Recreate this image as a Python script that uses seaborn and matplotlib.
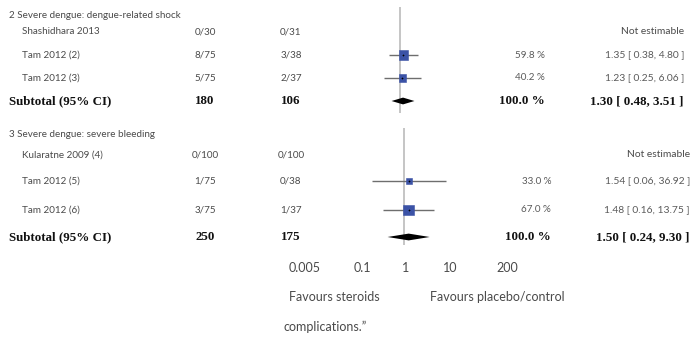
import numpy as np
import pandas as pd
import matplotlib
matplotlib.use("Agg")
import matplotlib.pyplot as plt
import seaborn as sns

# ---------------- data ----------------
group_titles = ["2 Severe dengue: dengue-related shock", "3 Severe dengue: severe bleeding"]
studies = [["Shashidhara 2013", "Tam 2012 (2)", "Tam 2012 (3)"],
           ["Kularatne 2009 (4)", "Tam 2012 (5)", "Tam 2012 (6)"]]
exp_events = [["0/30", "8/75", "5/75"], ["0/100", "1/75", "3/75"]]
ctrl_events = [["0/31", "3/38", "2/37"], ["0/100", "0/38", "1/37"]]
weights = [[np.nan, 59.8, 40.2], [np.nan, 33.0, 67.0]]
rr = [[np.nan, 1.35, 1.23], [np.nan, 1.54, 1.48]]
rr_lo = [[np.nan, 0.38, 0.25], [np.nan, 0.06, 0.16]]
rr_hi = [[np.nan, 4.80, 6.06], [np.nan, 36.92, 13.75]]
sub_exp = [180, 250]
sub_ctrl = [106, 175]
sub_rr = [1.30, 1.50]
sub_lo = [0.48, 0.24]
sub_hi = [3.51, 9.30]
tick_values = [0.005, 0.1, 1, 10, 200]
tick_labels = ["0.005", "0.1", "1", "10", "200"]
left_label = "Favours steroids"
right_label = "Favours placebo/control"
footer = "complications.\u201d"

# ---------------- layout (pixels) ----------------
W, H = 692, 340
header_y = [15, 135]
rows_y = [[32, 55, 78], [155, 181, 210]]
sub_y = [101, 237]
vline_span = [(7, 113), (128, 245)]
forest_cx = [400, 404]
right_shift = [0, 6]
PXDEC = 26.5
HALF = 70

sns.set_theme(style="white")
plt.rcParams['font.family'] = ['Lato', 'DejaVu Sans']

fig = plt.figure(figsize=(W / 100, H / 100), dpi=100)
fig.patch.set_facecolor("white")


def fx(x):
    return x / W


def fy(y):
    return 1 - y / H


TXT = "#4a4a4a"
LIGHT = "#5a5a5a"
BOLD = "#111111"
SERIF = ['Liberation Serif', 'DejaVu Serif']
fs = 7.1
rfs = 7.4
bfs = 9.4
tfs = 9.0

for g in range(2):
    cx = forest_cx[g]
    ax = fig.add_axes([fx(cx - HALF), 0, 2 * HALF / W, 1])
    ax.set_xscale('log')
    ax.set_xlim(10 ** (-HALF / PXDEC), 10 ** (HALF / PXDEC))
    ax.set_ylim(H, 0)
    ax.patch.set_alpha(0)
    ax.vlines(1, vline_span[g][0], vline_span[g][1], color="#b5b5b5", lw=1.1, zorder=1)
    df = pd.DataFrame(dict(rr=rr[g], lo=rr_lo[g], hi=rr_hi[g], w=weights[g], y=rows_y[g])).dropna()
    ax.hlines(df.y, df.lo, df.hi, color="#6e6e6e", lw=1.0, zorder=2)
    sns.scatterplot(data=df, x='rr', y='y', size='w', sizes=(20, 56), size_norm=(33, 67),
                    marker='s', color="#3b52a6", edgecolor="#3b52a6", linewidth=0.4,
                    legend=False, ax=ax, zorder=3)
    ax.scatter(df.rr, df.y, s=2, marker='+', color="black", linewidths=0.5, zorder=4)
    ys = sub_y[g]
    ax.fill([sub_lo[g], sub_rr[g], sub_hi[g], sub_rr[g]], [ys, ys - 3.4, ys, ys + 3.4],
            color="black", lw=0, zorder=3)
    ax.set_axis_off()

    # text columns
    fig.text(fx(9), fy(header_y[g]), group_titles[g], fontsize=fs, color=TXT,
             va='center', ha='left')
    for i, s in enumerate(studies[g]):
        y = rows_y[g][i]
        fig.text(fx(22), fy(y), s, fontsize=fs, color=TXT, va='center', ha='left')
        fig.text(fx(205), fy(y), exp_events[g][i], fontsize=fs, color=TXT,
                 va='center', ha='center')
        fig.text(fx(291), fy(y), ctrl_events[g][i], fontsize=fs, color=TXT,
                 va='center', ha='center')
        if np.isnan(weights[g][i]):
            fig.text(fx(684 + right_shift[g]), fy(y), "Not estimable", fontsize=rfs,
                     color=TXT, va='center', ha='right')
        else:
            fig.text(fx(545 + right_shift[g]), fy(y), f"{weights[g][i]:.1f} %", fontsize=fs,
                     color=LIGHT, va='center', ha='right')
            fig.text(fx(684 + right_shift[g]), fy(y),
                     f"{rr[g][i]:.2f} [ {rr_lo[g][i]:.2f}, {rr_hi[g][i]:.2f} ]", fontsize=rfs,
                     color=LIGHT, va='center', ha='right')
    fig.text(fx(9), fy(ys), "Subtotal (95% CI)", fontsize=bfs, family=SERIF, weight='bold',
             color=BOLD, va='center', ha='left')
    fig.text(fx(205), fy(ys), str(sub_exp[g]), fontsize=bfs, family=SERIF, weight='bold',
             color=BOLD, va='center', ha='center')
    fig.text(fx(291), fy(ys), str(sub_ctrl[g]), fontsize=bfs, family=SERIF, weight='bold',
             color=BOLD, va='center', ha='center')
    fig.text(fx(545 + right_shift[g]), fy(ys), "100.0 %", fontsize=bfs, family=SERIF,
             weight='bold', color=BOLD, va='center', ha='right')
    fig.text(fx(684 + right_shift[g]), fy(ys),
             f"{sub_rr[g]:.2f} [ {sub_lo[g]:.2f}, {sub_hi[g]:.2f} ]", fontsize=bfs, family=SERIF,
             weight='bold', color=BOLD, va='center', ha='right')

# bottom scale labels (own log scale)
TICKDEC = 44
TICK_CX = 406
TH = 140
axt = fig.add_axes([fx(TICK_CX - TH), 0, 2 * TH / W, 1])
axt.set_xscale('log')
axt.set_xlim(10 ** (-TH / TICKDEC), 10 ** (TH / TICKDEC))
axt.set_ylim(H, 0)
axt.set_axis_off()
axt.patch.set_alpha(0)
for v, lab in zip(tick_values, tick_labels):
    axt.text(v, 268, lab, fontsize=tfs, color=TXT, ha='center', va='center')

fig.text(fx(334), fy(297), left_label, fontsize=tfs, color=TXT, ha='center', va='center')
fig.text(fx(497), fy(297), right_label, fontsize=tfs, color=TXT, ha='center', va='center')
fig.text(fx(325), fy(327), footer, fontsize=tfs, color=TXT, ha='center', va='center')

fig.savefig("out.png", dpi=100)
